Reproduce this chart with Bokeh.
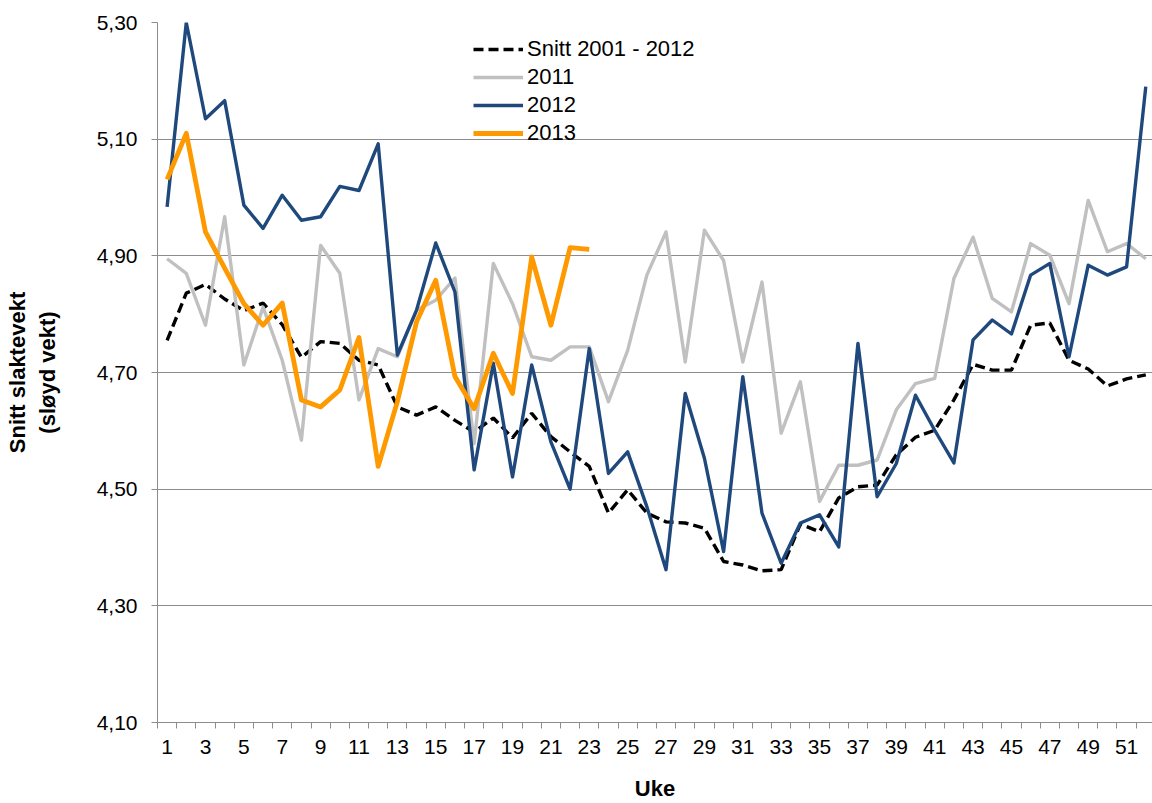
from bokeh.plotting import figure
from bokeh.models import FixedTicker, CustomJSTickFormatter, Legend, LegendItem, Range1d
from bokeh.embed import file_html
from bokeh.resources import INLINE

weeks = list(range(1, 53))
weeks_2013 = list(range(1, 24))

snitt = [4.755, 4.836, 4.851, 4.826, 4.806, 4.819, 4.782, 4.726, 4.753, 4.750,
         4.721, 4.713, 4.641, 4.627, 4.641, 4.618, 4.598, 4.622, 4.588, 4.630,
         4.590, 4.564, 4.539, 4.459, 4.499, 4.459, 4.444, 4.442, 4.433, 4.376,
         4.370, 4.360, 4.362, 4.440, 4.427, 4.485, 4.504, 4.507, 4.559, 4.589,
         4.601, 4.653, 4.714, 4.704, 4.704, 4.781, 4.785, 4.721, 4.706, 4.677,
         4.689, 4.696]

y2011 = [4.895, 4.870, 4.781, 4.967, 4.713, 4.812, 4.721, 4.584, 4.918, 4.870,
         4.653, 4.741, 4.727, 4.807, 4.824, 4.862, 4.578, 4.887, 4.818, 4.727,
         4.721, 4.744, 4.744, 4.650, 4.738, 4.867, 4.941, 4.718, 4.944, 4.892,
         4.718, 4.855, 4.596, 4.684, 4.479, 4.541, 4.541, 4.550, 4.636, 4.681,
         4.690, 4.861, 4.932, 4.827, 4.804, 4.921, 4.901, 4.818, 4.995, 4.907,
         4.921, 4.895]

y2012 = [4.984, 5.300, 5.135, 5.166, 4.987, 4.947, 5.004, 4.961, 4.967, 5.019,
         5.012, 5.092, 4.730, 4.807, 4.922, 4.838, 4.533, 4.716, 4.521, 4.713,
         4.581, 4.500, 4.741, 4.527, 4.564, 4.470, 4.362, 4.664, 4.553, 4.393,
         4.693, 4.459, 4.373, 4.442, 4.456, 4.401, 4.750, 4.487, 4.544, 4.661,
         4.601, 4.545, 4.756, 4.790, 4.766, 4.867, 4.887, 4.727, 4.884, 4.867,
         4.881, 5.190]

y2013 = [5.031, 5.110, 4.941, 4.879, 4.818, 4.781, 4.819, 4.653, 4.641, 4.670,
         4.760, 4.539, 4.650, 4.787, 4.858, 4.693, 4.638, 4.733, 4.664, 4.898,
         4.781, 4.914, 4.911]

series_labels = ["Snitt 2001 - 2012", "2011", "2012", "2013"]
x_tick_labels = list(range(1, 53, 2))
y_ticks = [4.10, 4.30, 4.50, 4.70, 4.90, 5.10, 5.30]

FONT = "Liberation Sans"
GRID = "#8C8C8C"

p = figure(width=1152, height=803, output_backend="svg", toolbar_location=None,
           x_range=Range1d(0.5, 52.35), y_range=Range1d(4.10, 5.30),
           min_border_left=157, min_border_top=22, min_border_bottom=80,
           min_border_right=0)
p.outline_line_color = None
p.background_fill_color = "white"
p.border_fill_color = "white"

# grids
p.xgrid.grid_line_color = None
p.ygrid.grid_line_color = GRID
p.ygrid.grid_line_width = 1

# y axis
p.yaxis.ticker = FixedTicker(ticks=y_ticks, minor_ticks=[])
p.yaxis.formatter = CustomJSTickFormatter(code="return tick.toFixed(2).replace('.', ',');")
p.yaxis.axis_line_color = GRID
p.yaxis.major_tick_line_color = GRID
p.yaxis.major_tick_out = 6
p.yaxis.major_tick_in = 0
p.yaxis.minor_tick_line_color = None
p.yaxis.major_label_text_font = FONT
p.yaxis.major_label_text_font_size = "21px"
p.yaxis.major_label_text_color = "black"
p.yaxis.major_label_standoff = 14
p.yaxis.axis_label = "Snitt slaktevekt\n(sløyd vekt)"
p.yaxis.axis_label_text_font = FONT
p.yaxis.axis_label_text_font_size = "22px"
p.yaxis.axis_label_text_font_style = "bold"
p.yaxis.axis_label_text_color = "black"
p.yaxis.axis_label_standoff = 34

# x axis
p.xaxis.ticker = FixedTicker(ticks=x_tick_labels,
                             minor_ticks=[w - 0.5 for w in range(1, 54)])
p.xaxis.axis_line_color = GRID
p.xaxis.major_tick_line_color = None
p.xaxis.major_tick_out = 0
p.xaxis.major_tick_in = 0
p.xaxis.minor_tick_line_color = GRID
p.xaxis.minor_tick_out = 6
p.xaxis.minor_tick_in = 0
p.xaxis.major_label_text_font = FONT
p.xaxis.major_label_text_font_size = "21px"
p.xaxis.major_label_text_color = "black"
p.xaxis.major_label_standoff = 11
p.xaxis.axis_label = "Uke"
p.xaxis.axis_label_text_font = FONT
p.xaxis.axis_label_text_font_size = "22px"
p.xaxis.axis_label_text_font_style = "bold"
p.xaxis.axis_label_text_color = "black"
p.xaxis.axis_label_standoff = 19

r0 = p.line(weeks, snitt, line_color="black", line_width=3.4, line_dash="10 5")
r1 = p.line(weeks, y2011, line_color="#C0C0C0", line_width=3.4, line_join="round")
r2 = p.line(weeks, y2012, line_color="#1F497D", line_width=3.4, line_join="round")
r3 = p.line(weeks_2013, y2013, line_color="#FF9900", line_width=4.8, line_join="round")

legend = Legend(items=[LegendItem(label=series_labels[0], renderers=[r0]),
                       LegendItem(label=series_labels[1], renderers=[r1]),
                       LegendItem(label=series_labels[2], renderers=[r2]),
                       LegendItem(label=series_labels[3], renderers=[r3])],
                location=(316, 576))
legend.padding = 0
legend.margin = 0
legend.spacing = 2
legend.glyph_width = 50
legend.glyph_height = 20
legend.label_standoff = 4
legend.border_line_color = None
legend.background_fill_alpha = 0
legend.label_text_font = FONT
legend.label_text_font_size = "22px"
legend.label_text_color = "black"
p.add_layout(legend)

open("out.html", "w").write(file_html(p, INLINE))
